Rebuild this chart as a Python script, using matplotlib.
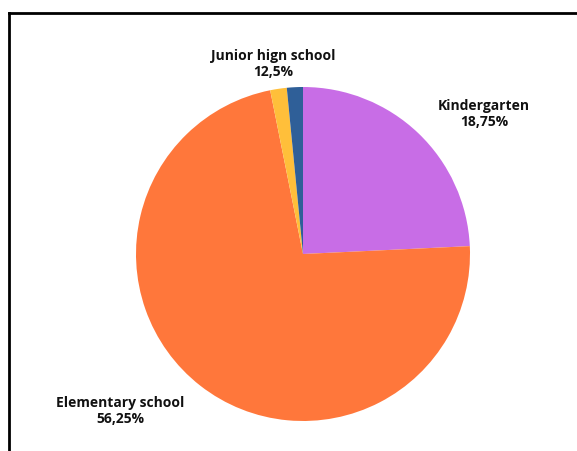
import matplotlib
matplotlib.use("Agg")
import matplotlib.pyplot as plt
from matplotlib.lines import Line2D

# slice shares (clockwise from 12 o'clock)
slices = ["Kindergarten", "Elementary school", "Junior high (a)", "Junior high (b)"]
shares = [24.25, 72.6, 1.6, 1.55]
colors = ["#c86de6", "#ff773b", "#ffbf3a", "#2f5f98"]

# printed labels (text as shown in the chart)
label_names = ["Kindergarten", "Elementary school", "Junior hign school"]
label_values = ["18,75%", "56,25%", "12,5%"]
label_pos = [(484, 114), (120, 411), (273, 64)]  # pixel centres

W, H = 577, 452
fig = plt.figure(figsize=(W / 100, H / 100), dpi=100)
fig.patch.set_facecolor("white")

cx, cy, r = 303, 255, 167
ax = fig.add_axes([(cx - r) / W, 1 - (cy + r) / H, 2 * r / W, 2 * r / H])
ax.pie(shares, colors=colors, startangle=90, counterclock=False,
       radius=1, wedgeprops={"linewidth": 0})
ax.set_xlim(-1, 1)
ax.set_ylim(-1, 1)
ax.set_aspect("equal")
ax.axis("off")

for name, val, (px, py) in zip(label_names, label_values, label_pos):
    fig.text(px / W, 1 - py / H, f"{name}\n{val}", ha="center", va="center",
             fontsize=10, fontweight="bold", family=["Open Sans", "DejaVu Sans"],
             color="#111111", linespacing=1.2)

# frame: top and left edges only
fig.add_artist(Line2D([9 / W, 1], [1 - 14 / H, 1 - 14 / H], transform=fig.transFigure,
                      color="black", lw=2))
fig.add_artist(Line2D([9 / W, 9 / W], [0, 1 - 14 / H], transform=fig.transFigure,
                      color="black", lw=2))

fig.savefig("out.png", dpi=100)
